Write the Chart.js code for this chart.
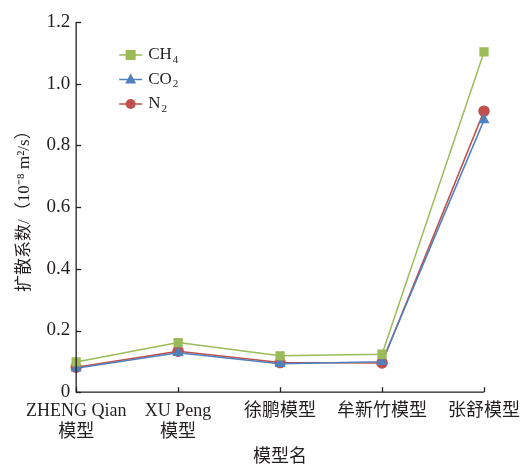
<!DOCTYPE html>
<html><head><meta charset="utf-8">
<script src="https://cdn.jsdelivr.net/npm/chart.js@4.4.1/dist/chart.umd.min.js"></script>
<style>html,body{margin:0;padding:0;background:#fff}#wrap{width:522px;height:468px;position:relative}</style>
</head><body><div id="wrap"><canvas id="c"></canvas></div>
<script>
const categories = [["ZHENG Qian","模型"],["XU Peng","模型"],"徐鹏模型","牟新竹模型","张舒模型"];
const ch4 = [0.098, 0.161, 0.118, 0.123, 1.103];
const co2 = [0.078, 0.128, 0.092, 0.099, 0.882];
const n2  = [0.081, 0.133, 0.096, 0.095, 0.911];
const seriesNames = [["CH","4"],["CO","2"],["N","2"]];
const yTitle = "扩散系数/（10⁻⁸ m²/s）";
const xTitle = "模型名";

const FONT = "'Liberation Serif','Noto Sans CJK SC',serif";
const AX = '#231f20';
const colors = ['#9bbb59','#4f81bd','#c0504d'];
const styles = ['rect','triangle','circle'];

const innerTicks = {
  id:'innerTicks',
  afterDatasetsDraw(chart){
    const ctx=chart.ctx, x=chart.scales.x, y=chart.scales.y, a=chart.chartArea;
    ctx.save(); ctx.strokeStyle=AX; ctx.lineWidth=1.3;
    ctx.beginPath(); ctx.moveTo(a.left,a.top); ctx.lineTo(a.left,a.bottom); ctx.lineTo(a.right,a.bottom); ctx.stroke();
    y.ticks.forEach((t,i)=>{const p=Math.round(y.getPixelForTick(i))+0.5; ctx.beginPath(); ctx.moveTo(a.left,p); ctx.lineTo(a.left+5,p); ctx.stroke();});
    x.ticks.forEach((t,i)=>{const p=Math.round(x.getPixelForTick(i))+0.5; ctx.beginPath(); ctx.moveTo(p,a.bottom); ctx.lineTo(p,a.bottom-5); ctx.stroke();});
    // legend
    const lx=a.left+43, ly=a.top+33, dy=24.5;
    chart.data.datasets.forEach((ds,i)=>{
      const yy=ly+i*dy;
      ctx.strokeStyle=colors[i]; ctx.lineWidth=1.5;
      ctx.beginPath(); ctx.moveTo(lx,yy); ctx.lineTo(lx+23,yy); ctx.stroke();
      ctx.fillStyle=colors[i];
      const cx=lx+11.5;
      if(styles[i]==='rect'){ctx.fillRect(cx-5,yy-5,10,10);}
      else if(styles[i]==='triangle'){ctx.beginPath(); ctx.moveTo(cx,yy-6); ctx.lineTo(cx+5.5,yy+4); ctx.lineTo(cx-5.5,yy+4); ctx.closePath(); ctx.fill();}
      else {ctx.beginPath(); ctx.arc(cx,yy,5,0,Math.PI*2); ctx.fill();}
      ctx.fillStyle=AX; ctx.textBaseline='middle'; ctx.textAlign='left';
      ctx.font="17px "+FONT;
      const [b,s]=seriesNames[i];
      ctx.fillText(b,lx+29,yy);
      const w=ctx.measureText(b).width;
      ctx.font="11px "+FONT;
      ctx.fillText(s,lx+29+w+1,yy+5);
    });
    ctx.restore();
  }
};

const mk=(label,data,i)=>({label,data,borderColor:colors[i],backgroundColor:colors[i],borderWidth:1.5,pointStyle:styles[i],pointRadius:i===0?5.5:5,pointHoverRadius:5,tension:0,clip:false});

new Chart(document.getElementById('c'),{
  type:'line',
  data:{labels:categories,datasets:[mk('CH4',ch4,0),mk('CO2',co2,1),mk('N2',n2,2)]},
  options:{
    responsive:true,maintainAspectRatio:false,animation:false,
    layout:{padding:{top:22,right:2,left:14,bottom:0}},
    plugins:{legend:{display:false},tooltip:{enabled:false}},
    scales:{
      x:{offset:false,border:{display:false},grid:{display:false,drawTicks:false},
         afterFit:s=>{s.paddingRight=38;},
         ticks:{color:AX,font:{family:FONT,size:18},padding:8,maxRotation:0,autoSkip:false},
         title:{display:true,text:xTitle,color:AX,font:{family:FONT,size:18},padding:{top:-5,bottom:0}}},
      y:{min:0,max:1.2,border:{display:false},grid:{display:false,drawTicks:false},
         ticks:{stepSize:0.2,color:AX,font:{family:FONT,size:19},padding:6,callback:v=>v===0?'0':v.toFixed(1)},
         title:{display:true,text:yTitle,color:AX,font:{family:FONT,size:17},padding:{top:0,bottom:6}}}
    }
  },
  plugins:[innerTicks]
});
</script></body></html>
